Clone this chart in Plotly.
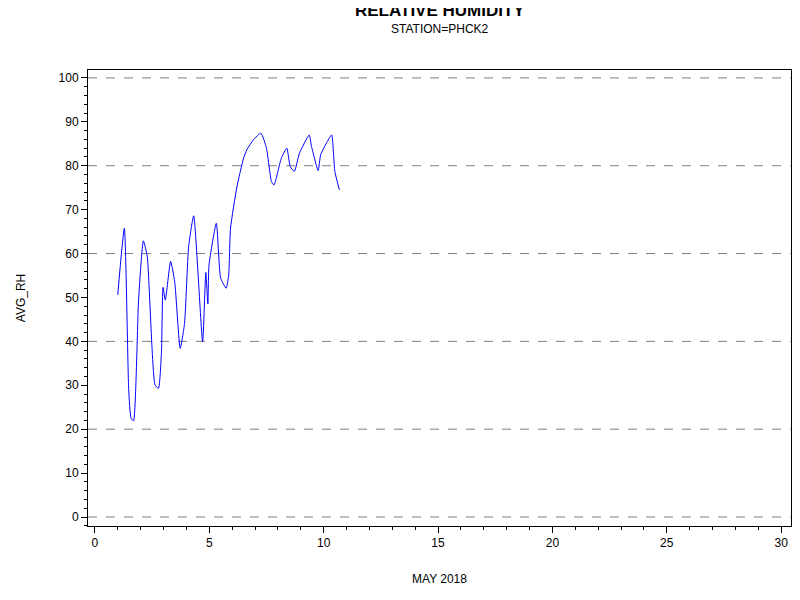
import plotly.graph_objects as go

day = [1.00,1.29,1.48,1.58,1.69,1.91,2.12,2.29,2.63,2.78,2.91,2.98,3.08,3.31,3.49,3.73,3.92,4.10,4.32,4.71,4.85,4.94,4.99,5.31,5.50,5.74,5.85,5.93,6.21,6.50,6.64,6.93,7.26,7.50,7.72,7.83,8.15,8.39,8.54,8.72,8.94,9.37,9.47,9.76,9.87,10.16,10.35,10.49,10.69]
rh = [50.6,65.8,28.9,22.5,21.9,49.4,62.9,59.3,30.1,29.3,37.3,52.3,49.4,58.2,53.6,38.4,44.1,61.6,68.6,39.9,55.7,48.5,57.4,66.9,54.4,52.1,55.1,65.8,75.2,81.7,83.6,85.9,87.4,84.0,76.4,75.6,81.7,84.0,79.8,78.7,82.8,87.0,84.4,78.9,82.5,85.5,87.0,78.7,74.5]

fig = go.Figure(go.Scatter(x=day, y=rh, mode="lines", line=dict(color="#0000ff", width=1, shape="spline", smoothing=0.5)))

ax = dict(showline=True, linecolor="black", linewidth=1, mirror=True, ticks="outside", ticklen=6,
          tickcolor="black", zeroline=False, tickfont=dict(family="Arial", size=12, color="black"),
          title_font=dict(family="Arial", size=12, color="black"))
fig.update_xaxes(**ax, range=[-0.3, 30.43], tickvals=[0,5,10,15,20,25,30], showgrid=False,
                 minor=dict(dtick=1, ticks="outside", ticklen=3, tickcolor="black"),
                 title_text="MAY 2018", title_standoff=25)
fig.update_yaxes(**ax, range=[-2.05, 101.8], tickvals=[0,10,20,30,40,50,60,70,80,90,100], showgrid=False,
                 minor=dict(dtick=2, ticks="outside", ticklen=3, tickcolor="black"),
                 title_text="AVG_RH", title_standoff=30)
for g in [0,20,40,60,80,100]:
    fig.add_hline(y=g, line=dict(color="gray", width=1, dash="dash"), layer="below")

fig.update_layout(width=800, height=600, margin=dict(l=69, r=17, t=62, b=82),
                  plot_bgcolor="white", paper_bgcolor="white", showlegend=False,
                  font=dict(family="Arial", color="black"),
                  annotations=[
                      dict(text="<b>RELATIVE HUMIDITY</b>", x=0.5, y=1, xref="paper", yref="paper", yshift=71,
                           showarrow=False, font=dict(size=17, family="Arial")),
                      dict(text="STATION=PHCK2", x=0.5, y=1, xref="paper", yref="paper", yshift=50,
                           showarrow=False, font=dict(size=12, family="Arial"))])
fig.write_html("out.html")
